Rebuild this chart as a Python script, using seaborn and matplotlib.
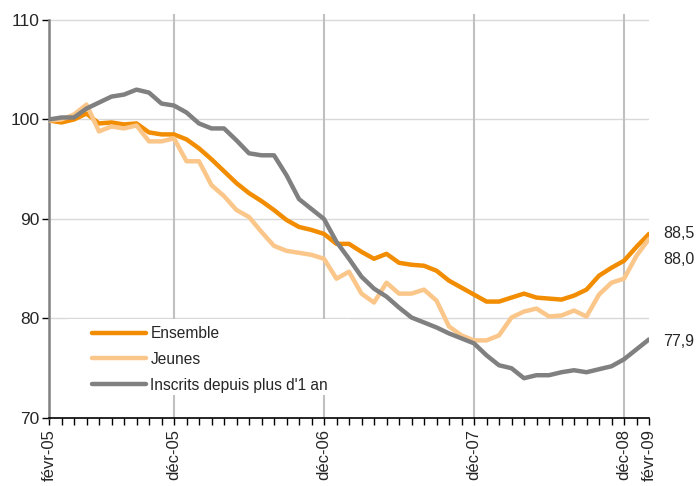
from matplotlib import pyplot as plt
from matplotlib.patches import Rectangle
import pandas as pd
import seaborn as sns

# monthly index, base 100 = févr-05
months = list(range(49))
tick_pos = [0, 10, 22, 34, 46, 48]
tick_labels = ["févr-05", "déc-05", "déc-06", "déc-07", "déc-08", "févr-09"]

ensemble = [99.9, 99.7, 100.0, 100.6, 99.6, 99.7, 99.5, 99.6, 98.7, 98.5,
            98.5, 98.0, 97.1, 96.0, 94.8, 93.6, 92.6, 91.8, 90.9, 89.9,
            89.2, 88.9, 88.5, 87.5, 87.5, 86.7, 86.0, 86.5, 85.6, 85.4,
            85.3, 84.8, 83.8, 83.1, 82.4, 81.7, 81.7, 82.1, 82.5, 82.1,
            82.0, 81.9, 82.3, 82.9, 84.3, 85.1, 85.8, 87.2, 88.5]
jeunes = [99.9, 100.0, 100.5, 101.5, 98.8, 99.3, 99.1, 99.4, 97.8, 97.8,
          98.1, 95.8, 95.8, 93.4, 92.3, 90.9, 90.2, 88.7, 87.3, 86.8,
          86.6, 86.4, 86.0, 84.0, 84.7, 82.5, 81.6, 83.6, 82.5, 82.5,
          82.9, 81.8, 79.2, 78.3, 77.8, 77.8, 78.3, 80.1, 80.7, 81.0,
          80.2, 80.3, 80.8, 80.2, 82.4, 83.6, 84.0, 86.3, 88.0]
longue = [100.0, 100.2, 100.2, 101.1, 101.7, 102.3, 102.5, 103.0, 102.7, 101.6,
          101.4, 100.7, 99.6, 99.1, 99.1, 97.9, 96.6, 96.4, 96.4, 94.4,
          92.0, 91.0, 90.0, 87.7, 86.0, 84.2, 83.0, 82.2, 81.1, 80.1,
          79.6, 79.1, 78.5, 78.0, 77.5, 76.3, 75.3, 75.0, 74.0, 74.3,
          74.3, 74.6, 74.8, 74.6, 74.9, 75.2, 75.9, 76.9, 77.9]

names = ["Ensemble", "Jeunes", "Inscrits depuis plus d'1 an"]
colors = ["#F28C00", "#FAC68A", "#808080"]

df = pd.DataFrame({
    "mois": months * 3,
    "indice": ensemble + jeunes + longue,
    "serie": [names[0]] * 49 + [names[1]] * 49 + [names[2]] * 49,
})

sns.set_style("white")
plt.rcParams["font.family"] = ["Liberation Sans Narrow", "Liberation Sans", "DejaVu Sans"]

fig = plt.figure(figsize=(6.99, 4.86), dpi=100)
ax = fig.add_axes([49 / 699, 1 - 418 / 486, 600 / 699, 404 / 486])

sns.lineplot(data=df, x="mois", y="indice", hue="serie", hue_order=names,
             palette=dict(zip(names, colors)), linewidth=3.2, ax=ax,
             legend=False, zorder=3)

ax.set_xlim(0, 48)
ax.set_ylim(70, 110.6)
ax.set_xlabel("")
ax.set_ylabel("")

# grid: horizontal light, vertical at december
ax.set_yticks([70, 80, 90, 100, 110])
for y in [80, 90, 100, 110]:
    ax.axhline(y, color="#d9d9d9", lw=1, zorder=0.5)
for x in tick_pos[1:5]:
    ax.axvline(x, color="#c0c0c0", lw=1.5, zorder=0.5)

ax.set_xticks(tick_pos)
ax.set_xticklabels(tick_labels, rotation=90, fontsize=12)
ax.set_xticks(months, minor=True)
ax.tick_params(axis="x", which="both", direction="out", length=5, width=1,
               color="black", bottom=True, pad=3)
ax.tick_params(axis="y", direction="out", length=5, width=1, color="black",
               left=True, labelsize=12.5, pad=2)

for s in ["top", "right"]:
    ax.spines[s].set_visible(False)
ax.spines["left"].set_color("#808080")
ax.spines["left"].set_linewidth(1.8)
ax.spines["left"].set_bounds(70, 110)
ax.spines["bottom"].set_color("black")
ax.spines["bottom"].set_linewidth(1.2)

# white box behind the legend hides the grid
ax.add_patch(Rectangle((19 / 600, 23 / 404), 282 / 600, 76 / 404,
                       transform=ax.transAxes, facecolor="white",
                       edgecolor="none", zorder=1))
handles = [plt.Line2D([], [], color=c, lw=3.2, solid_capstyle="round") for c in colors]
ax.legend(handles, names, loc="upper left", frameon=False,
          bbox_to_anchor=(43 / 600, 1 - (326 - 14) / 404), borderaxespad=0,
          borderpad=0, handlelength=3.5, handletextpad=0.25, labelspacing=0.7,
          fontsize=11.2)

# end-of-series labels
offsets = [0, -14.5, -1.5]
for vals, off in zip([ensemble, jeunes, longue], offsets):
    ax.annotate(f"{vals[-1]:.1f}".replace(".", ","), xy=(48, vals[-1]),
                xytext=(10, off), textcoords="offset points", ha="left",
                va="center", fontsize=11.5, annotation_clip=False)

fig.savefig("out.png", dpi=100)
